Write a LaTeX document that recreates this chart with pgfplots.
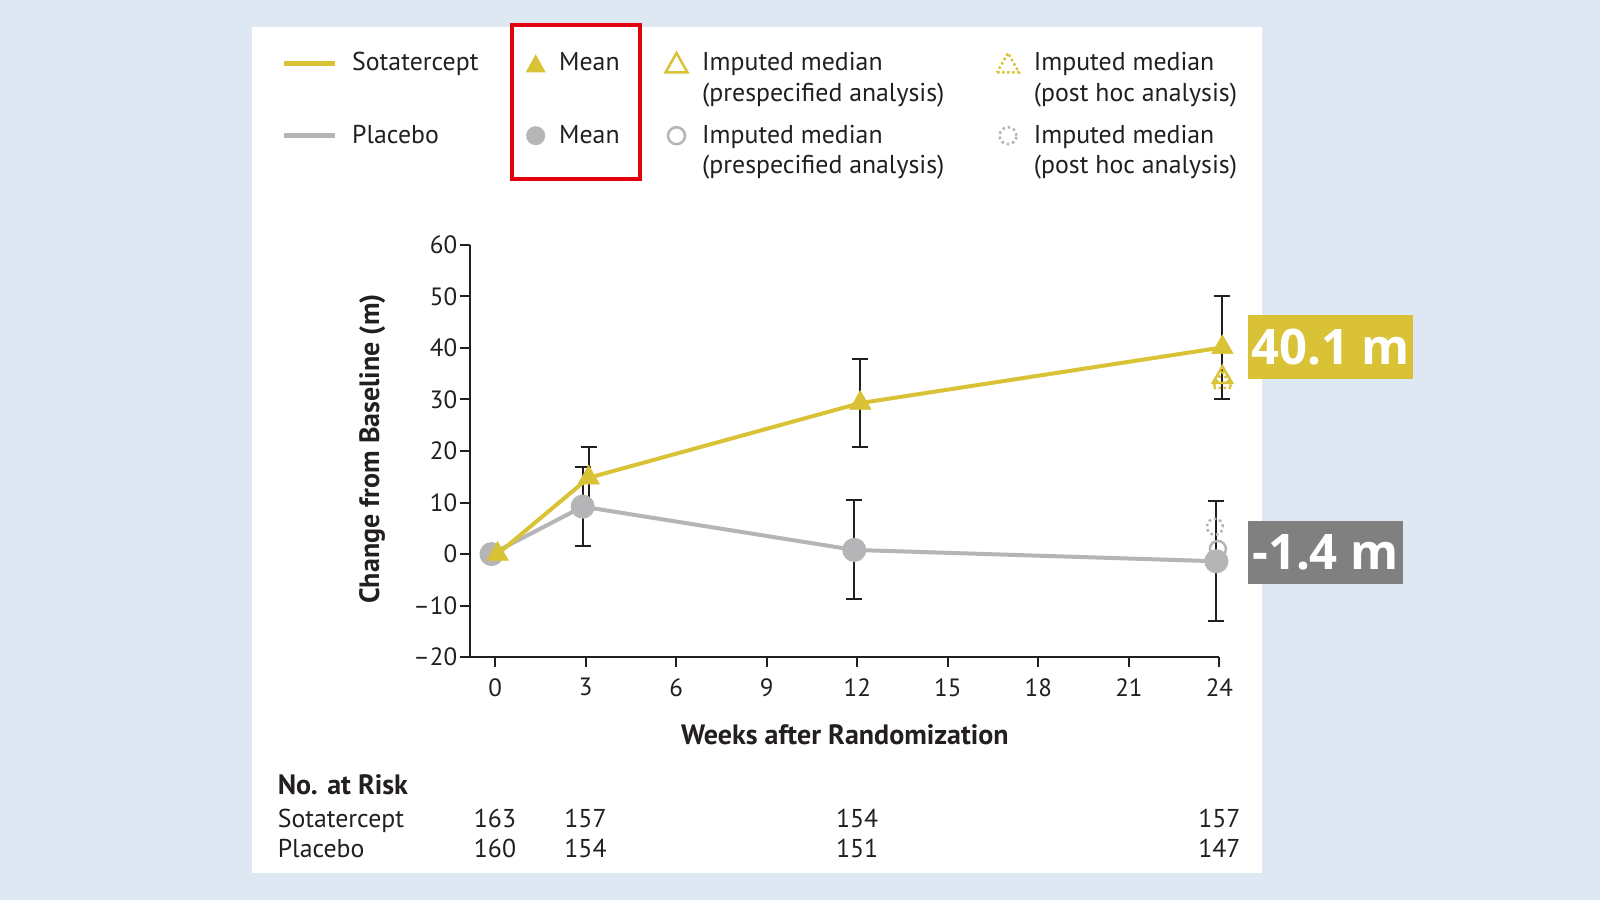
\documentclass[border=0pt]{standalone}
\usepackage{pgfplots}
\pgfplotsset{compat=1.18}
\usepackage{fontspec}
\setmainfont{PT Sans}
\newfontfamily\boxfont{Open Sans}
\definecolor{bg}{HTML}{DDE8F3}
\definecolor{sota}{HTML}{D9C235}
\definecolor{plac}{HTML}{B5B5B8}
\definecolor{graybox}{HTML}{808080}
\definecolor{txt}{HTML}{231F20}
\definecolor{redbox}{HTML}{E3000F}
\newcommand\fs{\fontsize{25}{30}\selectfont}
\newcommand\fl{\fontsize{25.8}{30}\selectfont}
\newcommand\fb{\bfseries\fontsize{28}{32}\selectfont}
\begin{document}
\begin{tikzpicture}[x=1pt,y=1pt,font=\fs]
\fill[bg] (0,0) rectangle (1600,900);
\fill[white] (252,27.5) rectangle (1262,872.5);
% legend
\begin{scope}[every node/.style={anchor=base west, inner sep=0, text=txt, font=\fl}]
\draw[sota, line width=4.5pt] (283.5,836.7) -- (334.5,836.7);
\draw[plac, line width=4.5pt] (283.5,764.3) -- (334.5,764.3);
\node at (352,829) {Sotatercept};
\node at (352,756.6) {Placebo};
\fill[sota] (525.7,827.7) -- (545.7,827.7) -- (535.7,845.7) -- cycle;
\fill[plac] (535.7,764.3) circle (9.5);
\node at (559,829) {Mean};
\node at (559,756.6) {Mean};
\draw[redbox, line width=4pt] (512.2,721.4) rectangle (639.8,874.5);
\draw[sota, line width=2.5pt, line join=miter] (665.5,827.5) -- (687.5,827.5) -- (676.5,847) -- cycle;
\draw[plac, line width=2.5pt] (676.5,764.3) circle (8.5);
\node at (702,829) {Imputed median};
\node at (702,798.4) {(prespecified analysis)};
\node at (702,756.6) {Imputed median};
\node at (702,726) {(prespecified analysis)};
\draw[sota, line width=2.5pt, dash pattern=on 2.5pt off 2.5pt] (997,827.5) -- (1019,827.5) -- (1008,847) -- cycle;
\draw[plac, line width=2.5pt, dash pattern=on 2.5pt off 3pt] (1008,764.3) circle (8.5);
\node at (1033.7,829) {Imputed median};
\node at (1033.7,798.4) {(post hoc analysis)};
\node at (1033.7,756.6) {Imputed median};
\node at (1033.7,726) {(post hoc analysis)};
\end{scope}

\begin{axis}[
  at={(470.4pt,242.9pt)}, anchor=south west, scale only axis,
  width=749pt, height=412.2pt,
  xmin=-0.82, xmax=24, ymin=-20, ymax=60,
  axis x line*=bottom, axis y line*=left,
  axis line style={line width=2pt, txt},
  every tick/.style={line width=2pt, txt},
  major tick length=10pt, tick align=outside,
  xtick={0,3,...,24}, xticklabels={0,3,6,9,12,15,18,21,24},
  ytick={-20,-10,...,60}, yticklabels={–20,–10,0,10,20,30,40,50,60},
  /pgf/number format/assume math mode=true,
  tick label style={font=\fs, text=txt},
  yticklabel style={inner sep=3pt},
  xticklabel style={inner sep=11pt},
  xlabel={\fb Weeks after Randomization},
  ylabel={\fb Change from Baseline (m)},
  xlabel style={at={(axis description cs:0.5,-0.188)}, anchor=center, text=txt},
  ylabel style={at={(axis description cs:-0.131,0.505)}, anchor=center, rotate=0, text=txt},
  clip=false,
]
% error bars
\addplot[draw=none, mark=none, forget plot,
  error bars/.cd, y dir=both, y explicit,
  error bar style={draw=txt, solid, line width=2pt},
  error mark options={rotate=90, draw=txt, mark size=8pt, line width=2pt}]
  coordinates {(2.9,9.2) +- (0,7.7) (11.9,0.8) +- (0,9.6) (23.9,-1.4) +- (0,11.6)};
\addplot[draw=none, mark=none, forget plot,
  error bars/.cd, y dir=both, y explicit,
  error bar style={draw=txt, solid, line width=2pt},
  error mark options={rotate=90, draw=txt, mark size=8pt, line width=2pt}]
  coordinates {(3.1,14.8) +- (0,5.9) (12.1,29.3) +- (0,8.6) (24.1,40.1) +- (0,10.0)};
% imputed medians (placebo)
\addplot[only marks, mark=o, mark size=8pt, mark options={draw=plac, fill=white, line width=2.5pt, dash pattern=on 2.5pt off 3pt}]
  coordinates {(23.85,5.3)};
\addplot[only marks, mark=o, mark size=8pt, mark options={draw=plac, fill=white, line width=2.5pt}]
  coordinates {(23.95,1.0)};
% placebo
\addplot[plac, line width=4pt, mark=*, mark size=10pt, mark options={fill=plac, draw=plac}]
  coordinates {(-0.12,0) (2.9,9.2) (11.9,0.8) (23.9,-1.4)};
% sotatercept
\addplot[sota, line width=4pt, mark=triangle*, mark size=12.5pt, mark options={fill=sota, draw=sota, line width=0.5pt}]
  coordinates {(0.08,0) (3.1,14.8) (12.1,29.3) (24.1,40.1)};
\addplot[only marks, mark=triangle, mark size=11pt, mark options={draw=sota, fill=white, line width=2.5pt}]
  coordinates {(24.1,34.3)};
\addplot[only marks, mark=triangle, mark size=11pt, mark options={draw=sota, line width=2.5pt, dash pattern=on 2.5pt off 2.5pt}]
  coordinates {(24.1,33.3)};
\end{axis}

% value boxes
\node[fill=sota, text=white, minimum width=165pt, minimum height=64pt, inner sep=0, font=\boxfont\bfseries\fontsize{49}{54}\selectfont] at (1330.5,553) {40.1 m};
\node[fill=graybox, text=white, minimum width=155pt, minimum height=63pt, inner sep=0, font=\boxfont\bfseries\fontsize{49}{54}\selectfont] at (1325.5,347.5) {-1.4 m};

% no. at risk
\begin{scope}[every node/.style={inner sep=0, text=txt, font=\fl}]
\node[anchor=base west, font=\fb] at (277.6,106) {No. at Risk};
\node[anchor=base west] at (277.6,73) {Sotatercept};
\node[anchor=base west] at (277.6,42.4) {Placebo};
\node[anchor=base] at (495,73) {163};
\node[anchor=base] at (585.5,73) {157};
\node[anchor=base] at (857.2,73) {154};
\node[anchor=base] at (1219.4,73) {157};
\node[anchor=base] at (495,42.4) {160};
\node[anchor=base] at (585.5,42.4) {154};
\node[anchor=base] at (857.2,42.4) {151};
\node[anchor=base] at (1219.4,42.4) {147};
\end{scope}
\end{tikzpicture}
\end{document}
